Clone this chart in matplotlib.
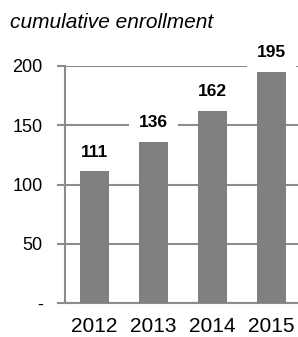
import matplotlib.pyplot as plt

years = ['2012', '2013', '2014', '2015']
enrollment = [111, 136, 162, 195]
yticks = [0, 50, 100, 150, 200]
ytick_labels = ['-', '50', '100', '150', '200']

plt.rcParams['font.family'] = ['Liberation Sans', 'DejaVu Sans']

fig = plt.figure(figsize=(2.98, 3.37), dpi=100)
ax = fig.add_axes([65 / 298, 1 - 303 / 337, 236 / 298, 237 / 337])

x = range(len(years))
ax.bar(x, enrollment, width=0.5, color='#808080', zorder=3)
ax.set_xlim(-0.5, 3.5)
ax.set_ylim(0, 200)

ax.set_yticks(yticks)
ax.set_yticklabels(ytick_labels, fontsize=13)
ax.set_xticks(list(x))
ax.set_xticklabels(years, fontsize=15)
ax.grid(axis='y', color='#8c8c8c', linewidth=1.5, zorder=0)
ax.tick_params(axis='y', length=6, width=1.5, color='#8c8c8c', pad=10)
ax.tick_params(axis='x', length=0, pad=10)

for s in ['top', 'right']:
    ax.spines[s].set_visible(False)
for s in ['left', 'bottom']:
    ax.spines[s].set_color('#8c8c8c')
    ax.spines[s].set_linewidth(1.5)

# value labels sit on white boxes that cut through the gridlines
for xi, v in zip(x, enrollment):
    ax.annotate(str(v), (xi, v), xytext=(0, 14), textcoords='offset points',
                ha='center', va='center', fontsize=12.5, fontweight='bold',
                bbox=dict(boxstyle='square,pad=0.55', facecolor='white', edgecolor='none'),
                zorder=4, annotation_clip=False)

fig.text(10 / 298, 1 - 22 / 337, 'cumulative enrollment', fontsize=15,
         style='italic', va='center', ha='left')

fig.savefig('out.png', dpi=100)
